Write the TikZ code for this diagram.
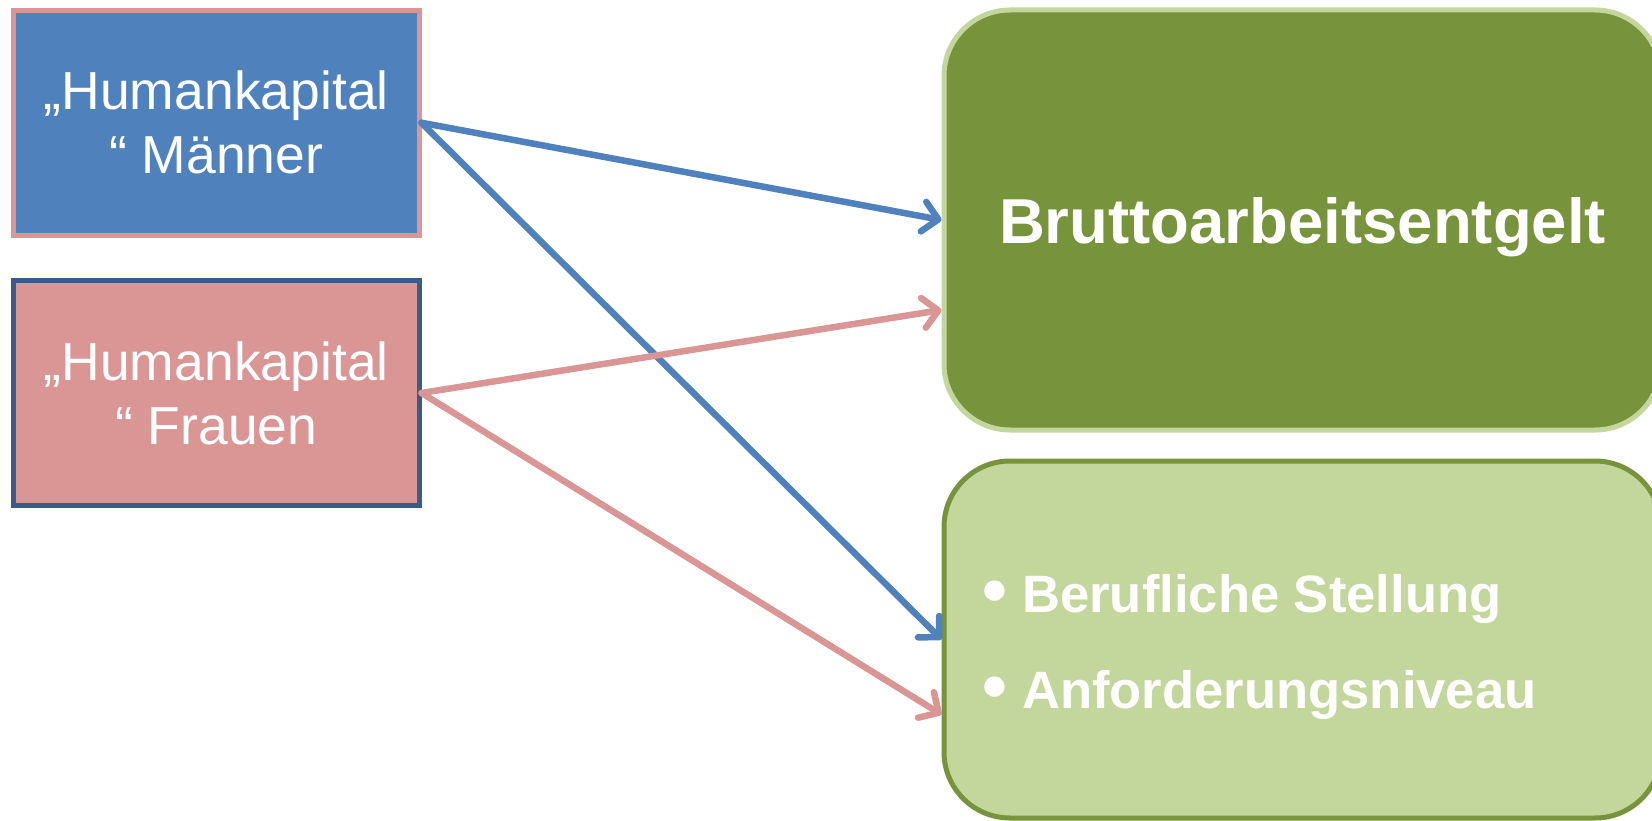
\documentclass[tikz,border=0pt]{standalone}
\usepackage{fontspec}
\setmainfont{Liberation Sans}
\usetikzlibrary{arrows.meta,calc}
\definecolor{hblue}{HTML}{4F81BD}
\definecolor{hpink}{HTML}{D99694}
\definecolor{hdblue}{HTML}{385D8A}
\definecolor{gdark}{HTML}{77933C}
\definecolor{glight}{HTML}{C3D69B}
\tikzset{
 hbox/.style={rectangle, line width=5pt, minimum width=405.5pt, minimum height=225pt, inner sep=0pt, text=white, align=center, font=\fontsize{53.5}{64}\selectfont},
 gbox/.style={rectangle, rounded corners=66pt, line width=5pt, minimum width=717pt, inner sep=0pt, text=white},
 conn/.style={line width=6.5pt, line cap=round, -{Straight Barb[length=15pt,width=30pt,line cap=round,line join=round]}},
 item/.style={anchor=base west, inner sep=0pt, text=white, font=\fontsize{52.6}{60}\selectfont\bfseries},
}
\newcommand{\bigbul}{\makebox[40pt][l]{\raisebox{-2pt}{\scalebox{1.35}{•}}}}
\begin{document}
\begin{tikzpicture}[x=1pt,y=-1pt]
\useasboundingbox (0,0) rectangle (1652,821);
\clip (0,0) rectangle (1652,821);
\node[hbox, fill=hblue, draw=hpink] (M) at (216.25,122.75) {„Humankapital\\“ Männer};
\node[hbox, fill=hpink, draw=hdblue] (F) at (216.25,393) {„Humankapital\\“ Frauen};
\node[gbox, fill=gdark, draw=glight, minimum height=420pt, text depth=0pt, font=\fontsize{63.5}{70}\selectfont\bfseries] (B) at (1302.5,220) {Bruttoarbeitsentgelt};
\node[gbox, fill=glight, draw=gdark, minimum height=357pt] (L) at (1302.5,639.5) {};
\node[item] (t1) at (982,612.7) {\bigbul Berufliche Stellung};
\node[item] (t2) at (982,708) {\bigbul Anforderungsniveau};
\draw[conn, hblue] (M.east) -- (B.west);
\draw[conn, hblue] (M.east) -- (L.west);
\draw[conn, hpink] (F.east) -- ([yshift=-90pt]B.west);
\draw[conn, hpink] (F.east) -- ([yshift=-75pt]L.west);
\end{tikzpicture}
\end{document}
